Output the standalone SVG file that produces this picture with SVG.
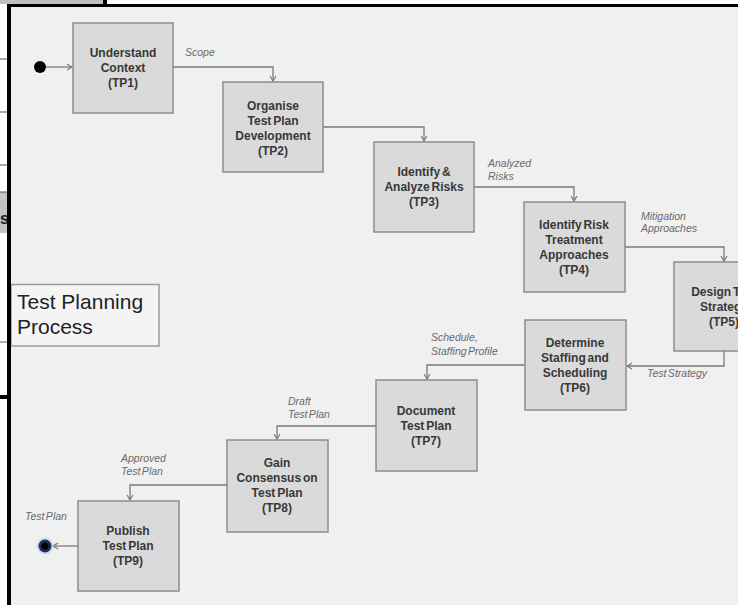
<svg xmlns="http://www.w3.org/2000/svg" width="738" height="605" viewBox="0 0 738 605">
<style>
.box{fill:#dadada;stroke:#8c8c8c;stroke-width:1.5}
.t{font-family:"Liberation Sans",Arial,sans-serif;font-size:12px;font-weight:bold;fill:#383838;text-anchor:middle;word-spacing:-1.5px}
.lbl{font-family:"Liberation Sans",Arial,sans-serif;font-size:10.5px;font-style:italic;fill:#6a6a6a;word-spacing:-1.5px}
.c{fill:none;stroke:#7a7a7a;stroke-width:1.3}
.m{stroke:#b0b0b0;stroke-width:1}
</style>
<defs>
<marker id="a" markerWidth="8" markerHeight="8" refX="6" refY="4" orient="auto" markerUnits="userSpaceOnUse">
<path d="M1,1 L6,4 L1,7" fill="none" stroke="#7a7a7a" stroke-width="1.2"/>
</marker>
</defs>
<rect x="0" y="0" width="738" height="605" fill="#ffffff"/>
<g id="margin">
<rect x="0" y="0" width="103" height="4" fill="#c0c0c0"/>
<rect x="103" y="0" width="4" height="5" fill="#000"/>
<line x1="0" y1="59" x2="8" y2="59" stroke="#555" stroke-width="1"/>
<line x1="0" y1="112" x2="8" y2="112" stroke="#555" stroke-width="1"/>
<line x1="0" y1="165" x2="8" y2="165" stroke="#555" stroke-width="1"/>
<rect x="0" y="192" width="8" height="41" fill="#c4c4c4"/>
<line x1="0" y1="192" x2="8" y2="192" stroke="#555" stroke-width="1"/>
<line x1="0" y1="342" x2="8" y2="342" stroke="#666" stroke-width="1"/>
<rect x="0" y="395" width="10" height="4" fill="#000"/>
</g>
<rect x="11" y="7" width="727" height="598" fill="#f0f0f0"/>
<rect x="7" y="4" width="4" height="601" fill="#000"/>
<rect x="7" y="4" width="731" height="3" fill="#000"/>
<text x="0" y="224" font-family="Liberation Sans,Arial,sans-serif" font-size="16" font-weight="bold" fill="#222">s</text>
<rect x="7" y="192" width="4" height="41" fill="#000"/>

<g id="title">
<rect x="11" y="284.5" width="148" height="61.5" fill="#f4f4f4" stroke="#9a9a9a" stroke-width="1.5"/>
<rect x="7" y="280" width="4" height="70" fill="#000"/>
<text x="17" y="309" font-family="Liberation Sans,Arial,sans-serif" font-size="21" fill="#222">Test Planning</text>
<text x="17" y="334" font-family="Liberation Sans,Arial,sans-serif" font-size="21" fill="#222">Process</text>
</g>

<g id="connectors">
<circle cx="40" cy="67" r="6" fill="#000"/>
<path class="c" d="M46,67 H72" marker-end="url(#a)"/>
<path class="c" d="M173,67 H273 V81" marker-end="url(#a)"/>
<path class="c" d="M323,127 H424 V141" marker-end="url(#a)"/>
<path class="c" d="M474,187 H574 V201" marker-end="url(#a)"/>
<path class="c" d="M625,247 H724 V261" marker-end="url(#a)"/>
<path class="c" d="M724,351 V366 H627" marker-end="url(#a)"/>
<path class="c" d="M525,365 H427 V379" marker-end="url(#a)"/>
<path class="c" d="M376,426 H277 V439" marker-end="url(#a)"/>
<path class="c" d="M227,485 H130 V500" marker-end="url(#a)"/>
<path class="c" d="M78,546 H53" marker-end="url(#a)"/>
<circle cx="45" cy="546" r="8.5" fill="#c9d3e6" opacity="0.8"/>
<circle cx="45" cy="546" r="6.5" fill="#1d2f58"/>
<circle cx="45" cy="546" r="3.5" fill="#000"/>
<text class="lbl" x="185" y="56">Scope</text>
<text class="lbl" x="488" y="167">Analyzed</text>
<text class="lbl" x="488" y="180">Risks</text>
<text class="lbl" x="641" y="220">Mitigation</text>
<text class="lbl" x="641" y="232">Approaches</text>
<text class="lbl" x="647" y="377">Test Strategy</text>
<text class="lbl" x="431" y="341">Schedule,</text>
<text class="lbl" x="431" y="355">Staffing Profile</text>
<text class="lbl" x="288" y="405">Draft</text>
<text class="lbl" x="288" y="418">Test Plan</text>
<text class="lbl" x="121" y="462">Approved</text>
<text class="lbl" x="121" y="475">Test Plan</text>
<text class="lbl" x="25" y="520">Test Plan</text>
</g>

<g id="TP1">
<rect class="box" x="73" y="23" width="100" height="90"/>
<text class="t" x="123" y="57">Understand</text>
<text class="t" x="123" y="72">Context</text>
<text class="t" x="123" y="87">(TP1)</text>
</g>
<g id="TP2">
<rect class="box" x="223" y="82" width="100" height="90"/>
<text class="t" x="273" y="110">Organise</text>
<text class="t" x="273" y="125">Test Plan</text>
<text class="t" x="273" y="140">Development</text>
<text class="t" x="273" y="155">(TP2)</text>
</g>
<g id="TP3">
<rect class="box" x="374" y="142" width="100" height="90"/>
<text class="t" x="424" y="176">Identify  &amp;</text>
<text class="t" x="424" y="191">Analyze Risks</text>
<text class="t" x="424" y="206">(TP3)</text>
</g>
<g id="TP4">
<rect class="box" x="524" y="202" width="101" height="90"/>
<text class="t" x="574" y="229">Identify Risk</text>
<text class="t" x="574" y="244">Treatment</text>
<text class="t" x="574" y="259">Approaches</text>
<text class="t" x="574" y="274">(TP4)</text>
</g>
<g id="TP5">
<rect class="box" x="674" y="262" width="100" height="89"/>
<text class="t" x="724" y="296">Design Test</text>
<text class="t" x="724" y="311">Strategy</text>
<text class="t" x="724" y="326">(TP5)</text>
</g>
<g id="TP6">
<rect class="box" x="525" y="320" width="101" height="90"/>
<text class="t" x="575" y="347">Determine</text>
<text class="t" x="575" y="362">Staffing and</text>
<text class="t" x="575" y="377">Scheduling</text>
<text class="t" x="575" y="392">(TP6)</text>
</g>
<g id="TP7">
<rect class="box" x="376" y="380" width="101" height="91"/>
<text class="t" x="426" y="415">Document</text>
<text class="t" x="426" y="430">Test Plan</text>
<text class="t" x="426" y="445">(TP7)</text>
</g>
<g id="TP8">
<rect class="box" x="227" y="440" width="101" height="92"/>
<text class="t" x="277" y="467">Gain</text>
<text class="t" x="277" y="482">Consensus on</text>
<text class="t" x="277" y="497">Test Plan</text>
<text class="t" x="277" y="512">(TP8)</text>
</g>
<g id="TP9">
<rect class="box" x="78" y="501" width="101" height="90"/>
<text class="t" x="128" y="535">Publish</text>
<text class="t" x="128" y="550">Test Plan</text>
<text class="t" x="128" y="565">(TP9)</text>
</g>
</svg>
